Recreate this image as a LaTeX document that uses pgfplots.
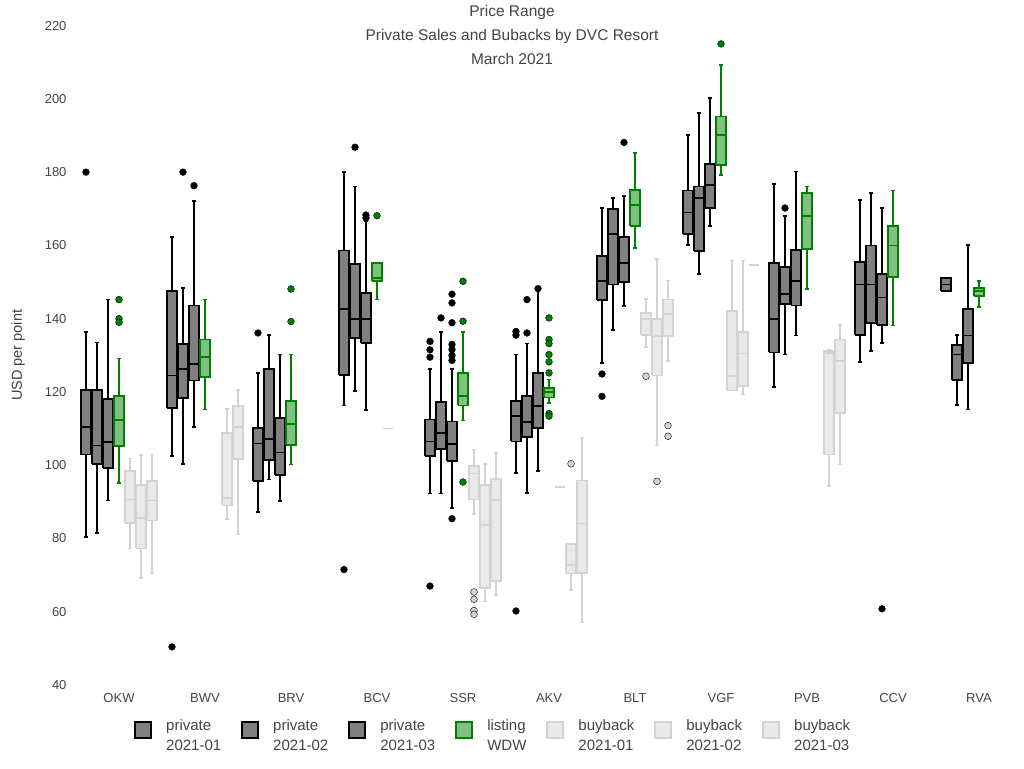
\documentclass[border=0pt]{standalone}
\usepackage{pgfplots}
\pgfplotsset{compat=1.18}
\usepackage{fontspec}
\setmainfont{Liberation Sans}
\definecolor{txt}{RGB}{68,68,68}
\definecolor{pfill}{RGB}{128,128,128}
\definecolor{lgreen}{RGB}{0,128,0}
\definecolor{lfill}{RGB}{128,192,128}
\definecolor{bline}{RGB}{211,211,211}
\definecolor{bfill}{RGB}{233,233,233}
\pgfplotsset{
  pb/.style={draw=black, fill=pfill, line width=1.7pt, forget plot},
  pl/.style={draw=black, line width=1.7pt, forget plot},
  pm/.style={only marks, mark=*, mark size=3.4pt, mark options={draw=none, fill=black}, forget plot},
  lb/.style={draw=lgreen, fill=lfill, line width=1.7pt, forget plot},
  ll/.style={draw=lgreen, line width=1.7pt, forget plot},
  lm/.style={only marks, mark=*, mark size=3.4pt, mark options={draw=none, fill=lgreen}, forget plot},
  bb/.style={draw=bline, fill=bfill, line width=1.7pt, forget plot},
  bl/.style={draw=bline, line width=1.7pt, forget plot},
  bm/.style={only marks, mark=*, mark size=3.4pt, mark options={draw=none, fill=bline}, forget plot},
}
\begin{document}
\begin{tikzpicture}
\path[use as bounding box] (0,0) rectangle (1024pt,768pt);
\begin{axis}[
  at={(76pt,83pt)}, anchor=south west,
  width=946pt, height=659.4pt, scale only axis,
  xmin=-0.5, xmax=10.5, ymin=40, ymax=220,
  unbounded coords=jump,
  axis line style={draw=none}, tick style={draw=none},
  xtick={0,1,2,3,4,5,6,7,8,9,10},
  xticklabels={OKW,BWV,BRV,BCV,SSR,AKV,BLT,VGF,PVB,CCV,RVA},
  ytick={40,60,80,100,120,140,160,180,200,220},
  ticklabel style={font=\fontsize{13}{15}\selectfont, text=txt},
  yticklabel style={xshift=-6pt},
  xticklabel style={yshift=-5pt},
  /pgf/number format/assume math mode=true,
  ylabel={USD per point},
  every axis y label/.style={at={(rel axis cs:-0.0613,0.5)}, rotate=90, anchor=center, font=\fontsize{14.5}{17}\selectfont, text=txt},
  clip=false,
  legend columns=7,
  legend style={at={(0.0613,-0.0455)}, anchor=north west, draw=none, inner sep=0pt,
    font=\fontsize{15}{19.5}\selectfont, text=txt, cells={anchor=west},
    /tikz/every odd column/.append style={column sep=12pt},
    /tikz/every even column/.append style={column sep=18pt}},
]
% ================= OKW =================
\addplot[pb] coordinates {(-0.4415,102.9) (-0.3265,102.9) (-0.3265,120.6) (-0.4415,120.6) (-0.4415,102.9)};
\addplot[pl] coordinates {(-0.384,120.6) (-0.384,136.3) (-0.384,nan) (-0.404,136.3) (-0.364,136.3) (-0.384,nan) (-0.384,102.9) (-0.384,80.4) (-0.384,nan) (-0.404,80.4) (-0.364,80.4) (-0.384,nan) (-0.4415,110.4) (-0.3265,110.4)};
\addplot[pm] coordinates {(-0.384,180)};
\addplot[pb] coordinates {(-0.3135,100.4) (-0.1985,100.4) (-0.1985,120.6) (-0.3135,120.6) (-0.3135,100.4)};
\addplot[pl] coordinates {(-0.256,120.6) (-0.256,133.5) (-0.256,nan) (-0.276,133.5) (-0.236,133.5) (-0.256,nan) (-0.256,100.4) (-0.256,81.5) (-0.256,nan) (-0.276,81.5) (-0.236,81.5) (-0.256,nan) (-0.3135,105.4) (-0.1985,105.4)};
\addplot[pb] coordinates {(-0.1855,99.3) (-0.0705,99.3) (-0.0705,118.1) (-0.1855,118.1) (-0.1855,99.3)};
\addplot[pl] coordinates {(-0.128,118.1) (-0.128,145.2) (-0.128,nan) (-0.148,145.2) (-0.108,145.2) (-0.128,nan) (-0.128,99.3) (-0.128,90.4) (-0.128,nan) (-0.148,90.4) (-0.108,90.4) (-0.128,nan) (-0.1855,106.3) (-0.0705,106.3)};
\addplot[lb] coordinates {(-0.0575,105.2) (0.0575,105.2) (0.0575,118.8) (-0.0575,118.8) (-0.0575,105.2)};
\addplot[ll] coordinates {(0,118.8) (0,129.1) (0,nan) (-0.02,129.1) (0.02,129.1) (0,nan) (0,105.2) (0,95.2) (0,nan) (-0.02,95.2) (0.02,95.2) (0,nan) (-0.0575,112.3) (0.0575,112.3)};
\addplot[lm] coordinates {(0,145.2) (0,140.0) (0,139.0)};
\addplot[bb] coordinates {(0.0705,84.3) (0.1855,84.3) (0.1855,98.5) (0.0705,98.5) (0.0705,84.3)};
\addplot[bl] coordinates {(0.128,98.5) (0.128,101.8) (0.128,nan) (0.108,101.8) (0.148,101.8) (0.128,nan) (0.128,84.3) (0.128,77.3) (0.128,nan) (0.108,77.3) (0.148,77.3) (0.128,nan) (0.0705,90.6) (0.1855,90.6)};
\addplot[bb] coordinates {(0.1985,77.3) (0.3135,77.3) (0.3135,94.5) (0.1985,94.5) (0.1985,77.3)};
\addplot[bl] coordinates {(0.256,94.5) (0.256,102.7) (0.256,nan) (0.236,102.7) (0.276,102.7) (0.256,nan) (0.256,77.3) (0.256,69.3) (0.256,nan) (0.236,69.3) (0.276,69.3) (0.256,nan) (0.1985,85.6) (0.3135,85.6)};
\addplot[bb] coordinates {(0.3265,84.9) (0.4415,84.9) (0.4415,95.6) (0.3265,95.6) (0.3265,84.9)};
\addplot[bl] coordinates {(0.384,95.6) (0.384,102.9) (0.384,nan) (0.364,102.9) (0.404,102.9) (0.384,nan) (0.384,84.9) (0.384,70.6) (0.384,nan) (0.364,70.6) (0.404,70.6) (0.384,nan) (0.3265,90.4) (0.4415,90.4)};
% ================= BWV =================
\addplot[pb] coordinates {(0.5585,115.6) (0.6735,115.6) (0.6735,147.5) (0.5585,147.5) (0.5585,115.6)};
\addplot[pl] coordinates {(0.616,147.5) (0.616,162.3) (0.616,nan) (0.596,162.3) (0.636,162.3) (0.616,nan) (0.616,115.6) (0.616,102.5) (0.616,nan) (0.596,102.5) (0.636,102.5) (0.616,nan) (0.5585,124.5) (0.6735,124.5)};
\addplot[pm] coordinates {(0.616,50.4)};
\addplot[pb] coordinates {(0.6865,118.4) (0.8015,118.4) (0.8015,133.1) (0.6865,133.1) (0.6865,118.4)};
\addplot[pl] coordinates {(0.744,133.1) (0.744,148.4) (0.744,nan) (0.724,148.4) (0.764,148.4) (0.744,nan) (0.744,118.4) (0.744,100.4) (0.744,nan) (0.724,100.4) (0.764,100.4) (0.744,nan) (0.6865,126.3) (0.8015,126.3)};
\addplot[pm] coordinates {(0.744,180)};
\addplot[pb] coordinates {(0.8145,123.1) (0.9295,123.1) (0.9295,143.6) (0.8145,143.6) (0.8145,123.1)};
\addplot[pl] coordinates {(0.872,143.6) (0.872,172.2) (0.872,nan) (0.852,172.2) (0.892,172.2) (0.872,nan) (0.872,123.1) (0.872,110.4) (0.872,nan) (0.852,110.4) (0.892,110.4) (0.872,nan) (0.8145,127.6) (0.9295,127.6)};
\addplot[pm] coordinates {(0.872,176.3)};
\addplot[lb] coordinates {(0.9425,124.0) (1.0575,124.0) (1.0575,134.3) (0.9425,134.3) (0.9425,124.0)};
\addplot[ll] coordinates {(1,134.3) (1,145.2) (1,nan) (0.98,145.2) (1.02,145.2) (1,nan) (1,124.0) (1,115.2) (1,nan) (0.98,115.2) (1.02,115.2) (1,nan) (0.9425,129.5) (1.0575,129.5)};
\addplot[bb] coordinates {(1.1985,89.0) (1.3135,89.0) (1.3135,108.8) (1.1985,108.8) (1.1985,89.0)};
\addplot[bl] coordinates {(1.256,108.8) (1.256,115.4) (1.256,nan) (1.236,115.4) (1.276,115.4) (1.256,nan) (1.256,89.0) (1.256,85.4) (1.256,nan) (1.236,85.4) (1.276,85.4) (1.256,nan) (1.1985,91.1) (1.3135,91.1)};
\addplot[bb] coordinates {(1.3265,101.7) (1.4415,101.7) (1.4415,116.1) (1.3265,116.1) (1.3265,101.7)};
\addplot[bl] coordinates {(1.384,116.1) (1.384,120.5) (1.384,nan) (1.364,120.5) (1.404,120.5) (1.384,nan) (1.384,101.7) (1.384,81.1) (1.384,nan) (1.364,81.1) (1.404,81.1) (1.384,nan) (1.3265,110.4) (1.4415,110.4)};
% ================= BRV =================
\addplot[pb] coordinates {(1.5585,95.6) (1.6735,95.6) (1.6735,110.2) (1.5585,110.2) (1.5585,95.6)};
\addplot[pl] coordinates {(1.616,110.2) (1.616,125.2) (1.616,nan) (1.596,125.2) (1.636,125.2) (1.616,nan) (1.616,95.6) (1.616,87.3) (1.616,nan) (1.596,87.3) (1.636,87.3) (1.616,nan) (1.5585,105.9) (1.6735,105.9)};
\addplot[pm] coordinates {(1.616,136.1)};
\addplot[pb] coordinates {(1.6865,101.4) (1.8015,101.4) (1.8015,126.3) (1.6865,126.3) (1.6865,101.4)};
\addplot[pl] coordinates {(1.744,126.3) (1.744,135.6) (1.744,nan) (1.724,135.6) (1.764,135.6) (1.744,nan) (1.744,101.4) (1.744,96.1) (1.744,nan) (1.724,96.1) (1.764,96.1) (1.744,nan) (1.6865,107.2) (1.8015,107.2)};
\addplot[pb] coordinates {(1.8145,97.3) (1.9295,97.3) (1.9295,112.9) (1.8145,112.9) (1.8145,97.3)};
\addplot[pl] coordinates {(1.872,112.9) (1.872,130.2) (1.872,nan) (1.852,130.2) (1.892,130.2) (1.872,nan) (1.872,97.3) (1.872,90.2) (1.872,nan) (1.852,90.2) (1.892,90.2) (1.872,nan) (1.8145,103.5) (1.9295,103.5)};
\addplot[lb] coordinates {(1.9425,105.6) (2.0575,105.6) (2.0575,117.5) (1.9425,117.5) (1.9425,105.6)};
\addplot[ll] coordinates {(2,117.5) (2,130.2) (2,nan) (1.98,130.2) (2.02,130.2) (2,nan) (2,105.6) (2,100.2) (2,nan) (1.98,100.2) (2.02,100.2) (2,nan) (1.9425,111.3) (2.0575,111.3)};
\addplot[lm] coordinates {(2,148.1) (2,139.2)};
% ================= BCV =================
\addplot[pb] coordinates {(2.5585,124.7) (2.6735,124.7) (2.6735,158.6) (2.5585,158.6) (2.5585,124.7)};
\addplot[pl] coordinates {(2.616,158.6) (2.616,180.0) (2.616,nan) (2.596,180.0) (2.636,180.0) (2.616,nan) (2.616,124.7) (2.616,116.3) (2.616,nan) (2.596,116.3) (2.636,116.3) (2.616,nan) (2.5585,142.6) (2.6735,142.6)};
\addplot[pm] coordinates {(2.616,71.5)};
\addplot[pb] coordinates {(2.6865,134.7) (2.8015,134.7) (2.8015,155.0) (2.6865,155.0) (2.6865,134.7)};
\addplot[pl] coordinates {(2.744,155.0) (2.744,176.1) (2.744,nan) (2.724,176.1) (2.764,176.1) (2.744,nan) (2.744,134.7) (2.744,120.2) (2.744,nan) (2.724,120.2) (2.764,120.2) (2.744,nan) (2.6865,140.0) (2.8015,140.0)};
\addplot[pm] coordinates {(2.744,186.8)};
\addplot[pb] coordinates {(2.8145,133.4) (2.9295,133.4) (2.9295,147.0) (2.8145,147.0) (2.8145,133.4)};
\addplot[pl] coordinates {(2.872,147.0) (2.872,166.5) (2.872,nan) (2.852,166.5) (2.892,166.5) (2.872,nan) (2.872,133.4) (2.872,115.0) (2.872,nan) (2.852,115.0) (2.892,115.0) (2.872,nan) (2.8145,140.0) (2.9295,140.0)};
\addplot[pm] coordinates {(2.872,167.5) (2.872,168.3)};
\addplot[lb] coordinates {(2.9425,150.2) (3.0575,150.2) (3.0575,155.2) (2.9425,155.2) (2.9425,150.2)};
\addplot[ll] coordinates {(3,150.2) (3,145.2) (3,nan) (2.98,145.2) (3.02,145.2) (3,nan) (2.9425,151.1) (3.0575,151.1)};
\addplot[lm] coordinates {(3,168.1)};
\addplot[bl] coordinates {(3.0705,110) (3.1855,110)};
% ================= SSR =================
\addplot[pb] coordinates {(3.5585,102.6) (3.6735,102.6) (3.6735,112.5) (3.5585,112.5) (3.5585,102.6)};
\addplot[pl] coordinates {(3.616,112.5) (3.616,126.3) (3.616,nan) (3.596,126.3) (3.636,126.3) (3.616,nan) (3.616,102.6) (3.616,92.3) (3.616,nan) (3.596,92.3) (3.636,92.3) (3.616,nan) (3.5585,106.5) (3.6735,106.5)};
\addplot[pm] coordinates {(3.616,133.8) (3.616,131.5) (3.616,129.5) (3.616,67.0)};
\addplot[pb] coordinates {(3.6865,104.5) (3.8015,104.5) (3.8015,117.2) (3.6865,117.2) (3.6865,104.5)};
\addplot[pl] coordinates {(3.744,117.2) (3.744,136.4) (3.744,nan) (3.724,136.4) (3.764,136.4) (3.744,nan) (3.744,104.5) (3.744,92.3) (3.744,nan) (3.724,92.3) (3.764,92.3) (3.744,nan) (3.6865,108.8) (3.8015,108.8)};
\addplot[pm] coordinates {(3.744,140.2)};
\addplot[pb] coordinates {(3.8145,101.2) (3.9295,101.2) (3.9295,111.9) (3.8145,111.9) (3.8145,101.2)};
\addplot[pl] coordinates {(3.872,111.9) (3.872,126.3) (3.872,nan) (3.852,126.3) (3.892,126.3) (3.872,nan) (3.872,101.2) (3.872,88.3) (3.872,nan) (3.852,88.3) (3.892,88.3) (3.872,nan) (3.8145,105.7) (3.9295,105.7)};
\addplot[pm] coordinates {(3.872,146.7) (3.872,144.3) (3.872,138.9) (3.872,133.0) (3.872,131.6) (3.872,130.0) (3.872,128.6) (3.872,85.4)};
\addplot[lb] coordinates {(3.9425,116.3) (4.0575,116.3) (4.0575,125.2) (3.9425,125.2) (3.9425,116.3)};
\addplot[ll] coordinates {(4,125.2) (4,136.4) (4,nan) (3.98,136.4) (4.02,136.4) (4,nan) (4,116.3) (4,112.2) (4,nan) (3.98,112.2) (4.02,112.2) (4,nan) (3.9425,118.8) (4.0575,118.8)};
\addplot[lm] coordinates {(4,150.2) (4,139.3) (4,95.4)};
\addplot[bb] coordinates {(4.0705,90.6) (4.1855,90.6) (4.1855,99.7) (4.0705,99.7) (4.0705,90.6)};
\addplot[bl] coordinates {(4.128,99.7) (4.128,104.3) (4.128,nan) (4.108,104.3) (4.148,104.3) (4.128,nan) (4.128,90.6) (4.128,86.7) (4.128,nan) (4.108,86.7) (4.148,86.7) (4.128,nan) (4.0705,97.7) (4.1855,97.7)};
\addplot[bm] coordinates {(4.128,65.4) (4.128,63.4) (4.128,60.3) (4.128,59.3)};
\addplot[bb] coordinates {(4.1985,66.4) (4.3135,66.4) (4.3135,94.5) (4.1985,94.5) (4.1985,66.4)};
\addplot[bl] coordinates {(4.256,94.5) (4.256,100.4) (4.256,nan) (4.236,100.4) (4.276,100.4) (4.256,nan) (4.256,66.4) (4.256,62.8) (4.256,nan) (4.236,62.8) (4.276,62.8) (4.256,nan) (4.1985,83.6) (4.3135,83.6)};
\addplot[bb] coordinates {(4.3265,68.3) (4.4415,68.3) (4.4415,96.3) (4.3265,96.3) (4.3265,68.3)};
\addplot[bl] coordinates {(4.384,96.3) (4.384,103.4) (4.384,nan) (4.364,103.4) (4.404,103.4) (4.384,nan) (4.384,68.3) (4.384,64.5) (4.384,nan) (4.364,64.5) (4.404,64.5) (4.384,nan) (4.3265,90.5) (4.4415,90.5)};
% ================= AKV =================
\addplot[pb] coordinates {(4.5585,106.5) (4.6735,106.5) (4.6735,117.5) (4.5585,117.5) (4.5585,106.5)};
\addplot[pl] coordinates {(4.616,117.5) (4.616,130.2) (4.616,nan) (4.596,130.2) (4.636,130.2) (4.616,nan) (4.616,106.5) (4.616,97.9) (4.616,nan) (4.596,97.9) (4.636,97.9) (4.616,nan) (4.5585,113.4) (4.6735,113.4)};
\addplot[pm] coordinates {(4.616,136.5) (4.616,135.5) (4.616,60.2)};
\addplot[pb] coordinates {(4.6865,107.7) (4.8015,107.7) (4.8015,118.8) (4.6865,118.8) (4.6865,107.7)};
\addplot[pl] coordinates {(4.744,118.8) (4.744,133.2) (4.744,nan) (4.724,133.2) (4.764,133.2) (4.744,nan) (4.744,107.7) (4.744,92.5) (4.744,nan) (4.724,92.5) (4.764,92.5) (4.744,nan) (4.6865,111.7) (4.8015,111.7)};
\addplot[pm] coordinates {(4.744,145.2) (4.744,136.1)};
\addplot[pb] coordinates {(4.8145,110.2) (4.9295,110.2) (4.9295,125.2) (4.8145,125.2) (4.8145,110.2)};
\addplot[pl] coordinates {(4.872,125.2) (4.872,147.8) (4.872,nan) (4.852,147.8) (4.892,147.8) (4.872,nan) (4.872,110.2) (4.872,98.4) (4.872,nan) (4.852,98.4) (4.892,98.4) (4.872,nan) (4.8145,116.1) (4.9295,116.1)};
\addplot[pm] coordinates {(4.872,148.2)};
\addplot[lb] coordinates {(4.9425,118.5) (5.0575,118.5) (5.0575,121.1) (4.9425,121.1) (4.9425,118.5)};
\addplot[ll] coordinates {(5,121.1) (5,123.4) (5,nan) (4.98,123.4) (5.02,123.4) (5,nan) (5,118.5) (5,117.0) (5,nan) (4.98,117.0) (5.02,117.0) (5,nan) (4.9425,119.9) (5.0575,119.9)};
\addplot[lm] coordinates {(5,140.2) (5,134.3) (5,133.2) (5,130.2) (5,128.2) (5,125.2) (5,114.1) (5,113.4)};
\addplot[bl] coordinates {(5.0705,94) (5.1855,94)};
\addplot[bb] coordinates {(5.1985,70.4) (5.3135,70.4) (5.3135,78.4) (5.1985,78.4) (5.1985,70.4)};
\addplot[bl] coordinates {(5.256,70.4) (5.256,65.9) (5.256,nan) (5.236,65.9) (5.276,65.9) (5.256,nan) (5.1985,72.7) (5.3135,72.7)};
\addplot[bm] coordinates {(5.256,100.4)};
\addplot[bb] coordinates {(5.3265,70.6) (5.4415,70.6) (5.4415,95.8) (5.3265,95.8) (5.3265,70.6)};
\addplot[bl] coordinates {(5.384,95.8) (5.384,107.6) (5.384,nan) (5.364,107.6) (5.404,107.6) (5.384,nan) (5.384,70.6) (5.384,57.1) (5.384,nan) (5.364,57.1) (5.404,57.1) (5.384,nan) (5.3265,84.1) (5.4415,84.1)};
% ================= BLT =================
\addplot[pb] coordinates {(5.5585,145.0) (5.6735,145.0) (5.6735,157.2) (5.5585,157.2) (5.5585,145.0)};
\addplot[pl] coordinates {(5.616,157.2) (5.616,170.2) (5.616,nan) (5.596,170.2) (5.636,170.2) (5.616,nan) (5.616,145.0) (5.616,127.9) (5.616,nan) (5.596,127.9) (5.636,127.9) (5.616,nan) (5.5585,150.2) (5.6735,150.2)};
\addplot[pm] coordinates {(5.616,124.9) (5.616,118.8)};
\addplot[pb] coordinates {(5.6865,149.3) (5.8015,149.3) (5.8015,170.0) (5.6865,170.0) (5.6865,149.3)};
\addplot[pl] coordinates {(5.744,170.0) (5.744,172.9) (5.744,nan) (5.724,172.9) (5.764,172.9) (5.744,nan) (5.744,149.3) (5.744,137.0) (5.744,nan) (5.724,137.0) (5.764,137.0) (5.744,nan) (5.6865,163.1) (5.8015,163.1)};
\addplot[pb] coordinates {(5.8145,150.0) (5.9295,150.0) (5.9295,162.2) (5.8145,162.2) (5.8145,150.0)};
\addplot[pl] coordinates {(5.872,162.2) (5.872,173.5) (5.872,nan) (5.852,173.5) (5.892,173.5) (5.872,nan) (5.872,150.0) (5.872,143.4) (5.872,nan) (5.852,143.4) (5.892,143.4) (5.872,nan) (5.8145,155.2) (5.9295,155.2)};
\addplot[pm] coordinates {(5.872,188.1)};
\addplot[lb] coordinates {(5.9425,165.2) (6.0575,165.2) (6.0575,175.2) (5.9425,175.2) (5.9425,165.2)};
\addplot[ll] coordinates {(6,175.2) (6,185.2) (6,nan) (5.98,185.2) (6.02,185.2) (6,nan) (6,165.2) (6,159.3) (6,nan) (5.98,159.3) (6.02,159.3) (6,nan) (5.9425,171.1) (6.0575,171.1)};
\addplot[bb] coordinates {(6.0705,135.5) (6.1855,135.5) (6.1855,141.5) (6.0705,141.5) (6.0705,135.5)};
\addplot[bl] coordinates {(6.128,141.5) (6.128,145.4) (6.128,nan) (6.108,145.4) (6.148,145.4) (6.128,nan) (6.128,135.5) (6.128,132.2) (6.128,nan) (6.108,132.2) (6.148,132.2) (6.128,nan) (6.0705,140.0) (6.1855,140.0)};
\addplot[bm] coordinates {(6.128,124.3)};
\addplot[bb] coordinates {(6.1985,124.5) (6.3135,124.5) (6.3135,139.9) (6.1985,139.9) (6.1985,124.5)};
\addplot[bl] coordinates {(6.256,139.9) (6.256,156.3) (6.256,nan) (6.236,156.3) (6.276,156.3) (6.256,nan) (6.256,124.5) (6.256,105.4) (6.256,nan) (6.236,105.4) (6.276,105.4) (6.256,nan) (6.1985,135.2) (6.3135,135.2)};
\addplot[bm] coordinates {(6.256,95.6)};
\addplot[bb] coordinates {(6.3265,135.2) (6.4415,135.2) (6.4415,145.2) (6.3265,145.2) (6.3265,135.2)};
\addplot[bl] coordinates {(6.384,145.2) (6.384,150.4) (6.384,nan) (6.364,150.4) (6.404,150.4) (6.384,nan) (6.384,135.2) (6.384,128.4) (6.384,nan) (6.364,128.4) (6.404,128.4) (6.384,nan) (6.3265,141.3) (6.4415,141.3)};
\addplot[bm] coordinates {(6.384,110.8) (6.384,107.9)};
% ================= VGF =================
\addplot[pb] coordinates {(6.5585,163.2) (6.6735,163.2) (6.6735,175.0) (6.5585,175.0) (6.5585,163.2)};
\addplot[pl] coordinates {(6.616,175.0) (6.616,190.2) (6.616,nan) (6.596,190.2) (6.636,190.2) (6.616,nan) (6.616,163.2) (6.616,160.2) (6.616,nan) (6.596,160.2) (6.636,160.2) (6.616,nan) (6.5585,169.0) (6.6735,169.0)};
\addplot[pb] coordinates {(6.6865,158.4) (6.8015,158.4) (6.8015,176.1) (6.6865,176.1) (6.6865,158.4)};
\addplot[pl] coordinates {(6.744,176.1) (6.744,196.1) (6.744,nan) (6.724,196.1) (6.764,196.1) (6.744,nan) (6.744,158.4) (6.744,152.2) (6.744,nan) (6.724,152.2) (6.764,152.2) (6.744,nan) (6.6865,172.9) (6.8015,172.9)};
\addplot[pb] coordinates {(6.8145,170.2) (6.9295,170.2) (6.9295,182.2) (6.8145,182.2) (6.8145,170.2)};
\addplot[pl] coordinates {(6.872,182.2) (6.872,200.2) (6.872,nan) (6.852,200.2) (6.892,200.2) (6.872,nan) (6.872,170.2) (6.872,165.2) (6.872,nan) (6.852,165.2) (6.892,165.2) (6.872,nan) (6.8145,176.4) (6.9295,176.4)};
\addplot[lb] coordinates {(6.9425,182.0) (7.0575,182.0) (7.0575,195.2) (6.9425,195.2) (6.9425,182.0)};
\addplot[ll] coordinates {(7,195.2) (7,209.3) (7,nan) (6.98,209.3) (7.02,209.3) (7,nan) (7,182.0) (7,179.3) (7,nan) (6.98,179.3) (7.02,179.3) (7,nan) (6.9425,190.2) (7.0575,190.2)};
\addplot[lm] coordinates {(7,215.0)};
\addplot[bb] coordinates {(7.0705,120.4) (7.1855,120.4) (7.1855,142.0) (7.0705,142.0) (7.0705,120.4)};
\addplot[bl] coordinates {(7.128,142.0) (7.128,155.9) (7.128,nan) (7.108,155.9) (7.148,155.9) (7.128,nan) (7.0705,124.3) (7.1855,124.3)};
\addplot[bb] coordinates {(7.1985,121.7) (7.3135,121.7) (7.3135,136.4) (7.1985,136.4) (7.1985,121.7)};
\addplot[bl] coordinates {(7.256,136.4) (7.256,155.9) (7.256,nan) (7.236,155.9) (7.276,155.9) (7.256,nan) (7.256,121.7) (7.256,119.3) (7.256,nan) (7.236,119.3) (7.276,119.3) (7.256,nan) (7.1985,130.5) (7.3135,130.5)};
\addplot[bl] coordinates {(7.3265,154.7) (7.4415,154.7)};
% ================= PVB =================
\addplot[pb] coordinates {(7.5585,130.8) (7.6735,130.8) (7.6735,155.2) (7.5585,155.2) (7.5585,130.8)};
\addplot[pl] coordinates {(7.616,155.2) (7.616,176.8) (7.616,nan) (7.596,176.8) (7.636,176.8) (7.616,nan) (7.616,130.8) (7.616,121.3) (7.616,nan) (7.596,121.3) (7.636,121.3) (7.616,nan) (7.5585,140.0) (7.6735,140.0)};
\addplot[pb] coordinates {(7.6865,144.0) (7.8015,144.0) (7.8015,154.1) (7.6865,154.1) (7.6865,144.0)};
\addplot[pl] coordinates {(7.744,154.1) (7.744,168.1) (7.744,nan) (7.724,168.1) (7.764,168.1) (7.744,nan) (7.744,144.0) (7.744,130.2) (7.744,nan) (7.724,130.2) (7.764,130.2) (7.744,nan) (7.6865,146.7) (7.8015,146.7)};
\addplot[pm] coordinates {(7.744,170.2)};
\addplot[pb] coordinates {(7.8145,143.6) (7.9295,143.6) (7.9295,158.8) (7.8145,158.8) (7.8145,143.6)};
\addplot[pl] coordinates {(7.872,158.8) (7.872,180.2) (7.872,nan) (7.852,180.2) (7.892,180.2) (7.872,nan) (7.872,143.6) (7.872,135.4) (7.872,nan) (7.852,135.4) (7.892,135.4) (7.872,nan) (7.8145,150.2) (7.9295,150.2)};
\addplot[lb] coordinates {(7.9425,159.0) (8.0575,159.0) (8.0575,174.3) (7.9425,174.3) (7.9425,159.0)};
\addplot[ll] coordinates {(8,174.3) (8,176.1) (8,nan) (7.98,176.1) (8.02,176.1) (8,nan) (8,159.0) (8,148.1) (8,nan) (7.98,148.1) (8.02,148.1) (8,nan) (7.9425,168.1) (8.0575,168.1)};
\addplot[bb] coordinates {(8.1985,102.9) (8.3135,102.9) (8.3135,131.1) (8.1985,131.1) (8.1985,102.9)};
\addplot[bl] coordinates {(8.256,131.1) (8.256,131.5) (8.256,nan) (8.236,131.5) (8.276,131.5) (8.256,nan) (8.256,102.9) (8.256,94.3) (8.256,nan) (8.236,94.3) (8.276,94.3) (8.256,nan) (8.1985,130.6) (8.3135,130.6)};
\addplot[bb] coordinates {(8.3265,114.3) (8.4415,114.3) (8.4415,134.3) (8.3265,134.3) (8.3265,114.3)};
\addplot[bl] coordinates {(8.384,134.3) (8.384,138.4) (8.384,nan) (8.364,138.4) (8.404,138.4) (8.384,nan) (8.384,114.3) (8.384,100.2) (8.384,nan) (8.364,100.2) (8.404,100.2) (8.384,nan) (8.3265,128.4) (8.4415,128.4)};
% ================= CCV =================
\addplot[pb] coordinates {(8.5585,135.6) (8.6735,135.6) (8.6735,155.5) (8.5585,155.5) (8.5585,135.6)};
\addplot[pl] coordinates {(8.616,155.5) (8.616,172.3) (8.616,nan) (8.596,172.3) (8.636,172.3) (8.616,nan) (8.616,135.6) (8.616,128.2) (8.616,nan) (8.596,128.2) (8.636,128.2) (8.616,nan) (8.5585,149.3) (8.6735,149.3)};
\addplot[pb] coordinates {(8.6865,138.8) (8.8015,138.8) (8.8015,160.0) (8.6865,160.0) (8.6865,138.8)};
\addplot[pl] coordinates {(8.744,160.0) (8.744,174.3) (8.744,nan) (8.724,174.3) (8.764,174.3) (8.744,nan) (8.744,138.8) (8.744,131.1) (8.744,nan) (8.724,131.1) (8.764,131.1) (8.744,nan) (8.6865,149.3) (8.8015,149.3)};
\addplot[pb] coordinates {(8.8145,138.2) (8.9295,138.2) (8.9295,152.2) (8.8145,152.2) (8.8145,138.2)};
\addplot[pl] coordinates {(8.872,152.2) (8.872,170.2) (8.872,nan) (8.852,170.2) (8.892,170.2) (8.872,nan) (8.872,138.2) (8.872,133.4) (8.872,nan) (8.852,133.4) (8.892,133.4) (8.872,nan) (8.8145,145.8) (8.9295,145.8)};
\addplot[pm] coordinates {(8.872,60.8)};
\addplot[lb] coordinates {(8.9425,151.4) (9.0575,151.4) (9.0575,165.2) (8.9425,165.2) (8.9425,151.4)};
\addplot[ll] coordinates {(9,165.2) (9,175.0) (9,nan) (8.98,175.0) (9.02,175.0) (9,nan) (9,151.4) (9,138.1) (9,nan) (8.98,138.1) (9.02,138.1) (9,nan) (8.9425,160.0) (9.0575,160.0)};
% ================= RVA =================
\addplot[pb] coordinates {(9.5585,147.5) (9.6735,147.5) (9.6735,151.1) (9.5585,151.1) (9.5585,147.5)};
\addplot[pl] coordinates {(9.5585,149.3) (9.6735,149.3)};
\addplot[pb] coordinates {(9.6865,123.2) (9.8015,123.2) (9.8015,132.9) (9.6865,132.9) (9.6865,123.2)};
\addplot[pl] coordinates {(9.744,132.9) (9.744,135.6) (9.744,nan) (9.724,135.6) (9.764,135.6) (9.744,nan) (9.744,123.2) (9.744,116.4) (9.744,nan) (9.724,116.4) (9.764,116.4) (9.744,nan) (9.6865,130.2) (9.8015,130.2)};
\addplot[pb] coordinates {(9.8145,127.9) (9.9295,127.9) (9.9295,142.7) (9.8145,142.7) (9.8145,127.9)};
\addplot[pl] coordinates {(9.872,142.7) (9.872,160.2) (9.872,nan) (9.852,160.2) (9.892,160.2) (9.872,nan) (9.872,127.9) (9.872,115.2) (9.872,nan) (9.852,115.2) (9.892,115.2) (9.872,nan) (9.8145,135.4) (9.9295,135.4)};
\addplot[lb] coordinates {(9.9425,146.1) (10.0575,146.1) (10.0575,148.4) (9.9425,148.4) (9.9425,146.1)};
\addplot[ll] coordinates {(10,148.4) (10,150.2) (10,nan) (9.98,150.2) (10.02,150.2) (10,nan) (10,146.1) (10,143.2) (10,nan) (9.98,143.2) (10.02,143.2) (10,nan) (9.9425,147.5) (10.0575,147.5)};
% ================= legend =================
\addlegendimage{legend image code/.code={\draw[draw=black, fill=pfill, line width=2pt] (0pt,-8pt) rectangle (16pt,8pt);}}
\addlegendentry{{\begin{tabular}{@{}l@{}}private\\2021-01\end{tabular}}}
\addlegendimage{legend image code/.code={\draw[draw=black, fill=pfill, line width=2pt] (0pt,-8pt) rectangle (16pt,8pt);}}
\addlegendentry{{\begin{tabular}{@{}l@{}}private\\2021-02\end{tabular}}}
\addlegendimage{legend image code/.code={\draw[draw=black, fill=pfill, line width=2pt] (0pt,-8pt) rectangle (16pt,8pt);}}
\addlegendentry{{\begin{tabular}{@{}l@{}}private\\2021-03\end{tabular}}}
\addlegendimage{legend image code/.code={\draw[draw=lgreen, fill=lfill, line width=2pt] (0pt,-8pt) rectangle (16pt,8pt);}}
\addlegendentry{{\begin{tabular}{@{}l@{}}listing\\WDW\end{tabular}}}
\addlegendimage{legend image code/.code={\draw[draw=bline, fill=bfill, line width=2pt] (0pt,-8pt) rectangle (16pt,8pt);}}
\addlegendentry{{\begin{tabular}{@{}l@{}}buyback\\2021-01\end{tabular}}}
\addlegendimage{legend image code/.code={\draw[draw=bline, fill=bfill, line width=2pt] (0pt,-8pt) rectangle (16pt,8pt);}}
\addlegendentry{{\begin{tabular}{@{}l@{}}buyback\\2021-02\end{tabular}}}
\addlegendimage{legend image code/.code={\draw[draw=bline, fill=bfill, line width=2pt] (0pt,-8pt) rectangle (16pt,8pt);}}
\addlegendentry{{\begin{tabular}{@{}l@{}}buyback\\2021-03\end{tabular}}}
\end{axis}
\begin{scope}[every node/.style={text=txt, font=\fontsize{15.5}{18}\selectfont}]
\node at (512pt,755pt) {Price Range};
\node at (512pt,731pt) {Private Sales and Bubacks by DVC Resort};
\node at (512pt,709pt) {March 2021};
\end{scope}
\end{tikzpicture}
\end{document}
